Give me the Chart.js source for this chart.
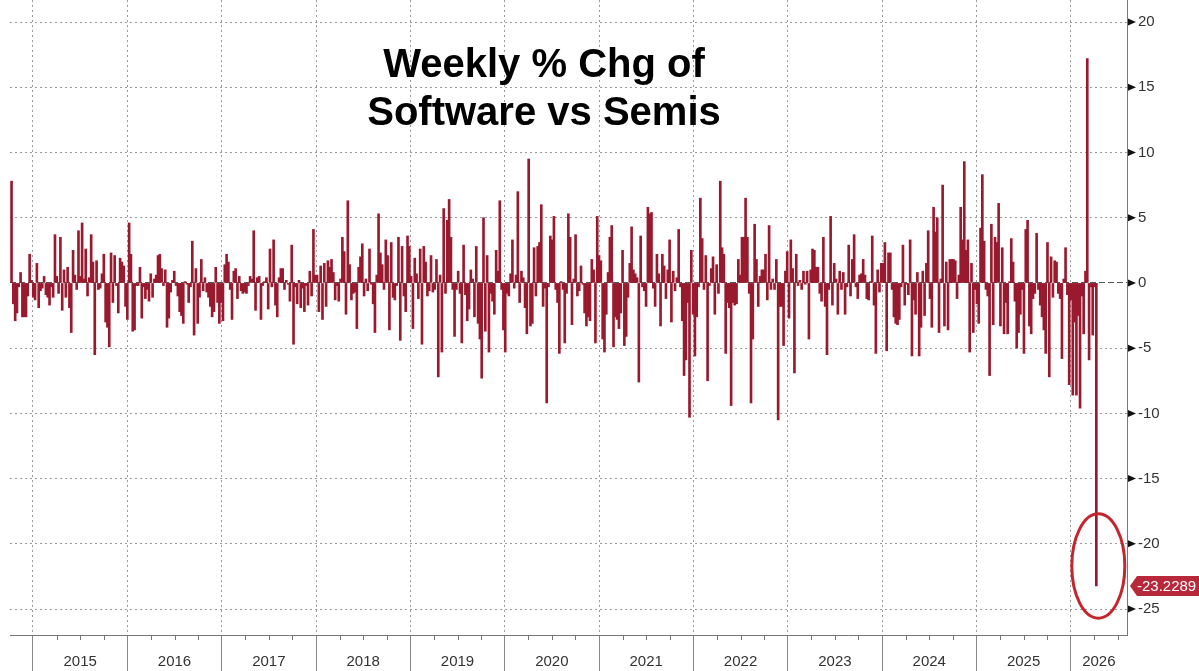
<!DOCTYPE html>
<html><head><meta charset="utf-8">
<script src="https://cdn.jsdelivr.net/npm/chart.js@4.4.1/dist/chart.umd.min.js"></script>
<style>
html,body{margin:0;padding:0;background:#fff;}
#wrap{position:relative;width:1199px;height:671px;overflow:hidden;background:#fff;}
#title{position:absolute;left:0;top:39px;width:1088px;text-align:center;font:bold 40px/48px "Liberation Sans",Arial,sans-serif;color:#000;}
canvas{position:absolute;left:0;top:0;}
</style></head><body>
<div id="wrap"><canvas id="c" width="1199" height="671"></canvas><div id="title">Weekly % Chg of<br>Software vs Semis</div></div>
<script>
// ---- data ----
const firstWeek = '2014-10-10';
const weeklyChg = [
 7.8,-1.6,-2.9,-2.3,-0.3,0.8,-2.6,-2.6,-2.6,-1.0,2.2,0.2,
 -1.1,-1.3,1.5,-1.9,-0.6,-0.4,0.5,-0.9,-1.1,-1.7,-0.3,-1.1,3.7,0.5,-0.8,3.5,-2.1,1.0,-1.1,1.2,-1.9,-3.8,2.5,0.6,-0.5,4.0,0.5,4.6,0.3,2.6,-1.0,0.4,3.7,1.6,-5.5,1.7,-0.5,-0.4,0.7,2.2,-3.0,-3.4,
 -4.9,2.3,-1.5,2.1,-0.2,-2.3,1.9,1.6,1.3,-1.8,-2.8,4.6,2.2,-3.7,-3.6,-0.2,-0.2,1.2,-2.7,-0.3,-1.2,-0.5,-1.4,0.7,-1.1,0.3,0.6,2.1,2.2,1.1,-0.2,1.0,-3.4,-2.7,-0.7,0.2,0.9,-0.2,-1.0,-2.2,-2.5,-3.1,0.1,-0.1,-1.5,-0.3,3.2,-4.0,1.1,-3.1,-1.1,1.8,-0.6,0.4,-0.7,-1.1,
 -1.8,-2.6,-2.2,1.2,-1.5,-3.1,-1.5,-2.9,1.4,2.2,1.6,-0.5,-2.8,0.9,1.1,-1.2,0.5,-0.6,-0.8,-0.7,-0.8,-0.2,0.5,0.3,4.0,-2.1,0.4,0.5,-2.8,-0.2,0.1,0.4,-2.0,2.6,-0.3,3.3,-1.7,-2.6,0.4,1.1,1.1,-0.5,0.2,-0.1,-1.4,2.9,-4.7,-0.3,-1.6,0.2,-1.9,-0.4,-2.2,-0.2,-1.7,0.9,-1.0,
 4.1,0.6,0.6,-2.2,1.3,-2.8,1.5,-1.8,1.7,1.2,1.8,0.8,-1.3,-0.2,-1.4,0.3,3.5,2.4,-2.4,6.3,1.4,-1.3,-0.8,-0.7,-3.5,1.2,2.0,3.0,-1.0,0.3,-0.6,2.6,-0.1,-1.6,-3.8,0.6,5.3,2.3,1.4,-0.5,3.3,2.1,-3.6,3.1,-1.1,-1.3,-0.2,3.5,-4.4,2.8,-1.0,-2.2,3.6,2.8,0.5,
 -3.5,1.9,0.7,-1.2,2.6,-4.7,2.8,1.6,-1.0,-0.6,2.1,-0.7,-0.5,1.8,-7.2,0.6,-5.3,5.7,-0.8,4.8,6.4,3.5,-0.5,-4.1,-0.5,0.9,-0.8,-4.6,2.9,-0.9,-2.9,-2.0,1.0,0.3,-2.6,2.8,-3.1,-4.3,-7.3,5.0,-3.7,2.1,-5.3,-0.8,-1.4,-2.4,2.5,0.9,6.3,-0.5,-3.6,-5.3,-0.8,-1.0,0.7,
 3.3,-0.4,0.6,7.0,-1.5,0.9,0.4,-1.9,-3.9,9.5,-3.3,-3.1,2.7,-1.0,2.8,3.1,6.0,-1.8,-0.4,-9.2,-0.3,3.6,3.3,5.1,-0.5,-1.5,-5.4,0.1,-0.5,-4.6,-0.8,5.3,3.5,-3.2,0.3,3.7,-1.0,-0.6,1.3,-0.1,-2.3,-3.3,-2.6,-2.9,1.8,1.0,-4.6,5.1,2.1,1.7,-4.3,-5.3,-2.4,0.8,3.5,
 4.4,-4.9,-2.6,-2.8,-3.5,-2.3,2.5,-4.8,-4.1,-1.1,1.5,4.3,1.0,0.7,0.4,-7.6,3.6,-0.3,-0.6,-1.8,5.8,5.3,5.4,-0.4,-1.8,2.2,0.7,-3.3,2.2,1.3,-1.2,1.0,3.3,-3.0,0.9,-0.6,0.4,4.1,-0.3,-2.9,-7.1,-5.9,-1.5,-10.3,2.5,-2.4,-5.6,-2.6,-0.3,6.5,3.4,-0.5,2.1,-7.5,-0.2,1.1,2.0,
 -2.4,1.4,-0.8,7.8,2.7,2.2,-5.4,-1.5,-1.9,-9.4,-1.5,-1.7,-1.6,1.8,0.6,3.5,3.5,6.5,3.5,-0.8,-9.2,-4.3,4.5,1.8,-1.8,0.5,1.0,1.0,2.2,-1.3,4.4,-0.5,0.3,-0.5,1.8,-10.5,-1.8,-1.8,-4.8,0.9,2.4,-2.7,3.3,1.1,-6.9,2.2,-0.2,0.2,-0.5,0.9,-0.1,0.9,-4.3,1.0,2.6,
 2.5,1.2,1.2,-0.8,-1.4,3.5,-1.8,-5.5,-0.5,5.1,-1.7,1.5,0.3,-2.4,0.9,-0.5,0.8,-2.4,-0.3,2.9,-1.0,1.8,3.7,-0.3,-1.2,0.6,0.7,1.8,0.6,-1.2,-1.3,0.1,3.6,-1.7,-5.4,1.0,-0.7,1.5,1.5,3.1,-5.2,2.3,2.3,-0.5,-2.6,-3.1,-3.2,-2.8,-0.3,2.9,-1.7,-0.1,-0.9,
 3.3,-5.6,-1.3,-2.4,0.8,-5.6,-3.4,0.9,-2.5,1.5,4.0,-1.2,-3.4,5.8,3.9,5.0,-3.8,0.3,7.5,-3.3,1.6,-3.6,1.8,1.8,1.8,1.7,-1.2,0.6,5.8,3.3,9.3,2.5,3.3,-5.3,1.5,-3.8,-0.5,-1.6,-3.1,4.2,8.3,3.2,-0.5,-1.0,-7.1,4.5,-3.2,3.5,3.1,6.1,-3.3,2.7,-3.9,-1.5,-3.9,0.1,
 3.4,1.6,-1.4,-5.0,-3.8,-2.4,-0.5,-5.4,4.1,4.8,-3.3,-3.9,-1.2,-0.8,3.8,-0.5,-1.7,-2.6,-3.6,-5.4,3.1,-7.2,2.0,-1.1,1.7,1.6,-0.8,-1.2,-5.8,0.3,2.7,-0.9,-7.8,-1.3,-8.6,-3.0,-8.6,-2.5,-9.6,-1.0,-3.9,0.9,17.2,-5.9,-0.3,-4.0,-0.3,-23.2289
];
const yearLabels = ['2015','2016','2017','2018','2019','2020','2021','2022','2023','2024','2025','2026'];
const yTickValues = [-25,-20,-15,-10,-5,0,5,10,15,20];
const lastLabel = '-23.2289';

// ---- build ----
const t0 = Date.parse(firstWeek + 'T00:00:00Z');
function decYear(ms){ const d=new Date(ms); const y=d.getUTCFullYear(); const a=Date.UTC(y,0,1), b=Date.UTC(y+1,0,1); return y+(ms-a)/(b-a); }
const points = weeklyChg.map((v,i)=>({x: decYear(t0 + i*7*86400000), y: v}));

const X_MIN = 2014.7562, X_MAX = 2026.5964;
const labelMap = new Map();
yearLabels.forEach(s=>{ const Y=+s; const lo=Math.max(Y,X_MIN), hi=Math.min(Y+1,X_MAX); if(hi-lo>0.3) labelMap.set((lo+hi)/2, s); });

const FONT = '"Liberation Sans", Arial, sans-serif';
const isInt = v => Math.abs(v-Math.round(v))<1e-9;
const noPad = s => { s.paddingTop=0; s.paddingBottom=0; s.paddingLeft=0; s.paddingRight=0; };

const decor = {
  id:'decor',
  afterDraw(chart){
    const {ctx, chartArea:ca, scales:{x,y}} = chart;
    ctx.save();
    ctx.strokeStyle='#777'; ctx.lineWidth=1;
    for(let Y=2014;Y<=2026;Y++) for(const q of [0.25,0.5,0.75]){
      const v=Y+q; if(v<x.min||v>x.max) continue;
      const px=Math.round(x.getPixelForValue(v))+0.5;
      ctx.beginPath(); ctx.moveTo(px,ca.bottom); ctx.lineTo(px,ca.bottom+5); ctx.stroke();
    }
    ctx.fillStyle='#111';
    yTickValues.forEach(v=>{ const py=y.getPixelForValue(v); ctx.beginPath(); ctx.moveTo(ca.right+1,py-3.5); ctx.lineTo(ca.right+9,py); ctx.lineTo(ca.right+1,py+3.5); ctx.closePath(); ctx.fill(); });
    const last=points[points.length-1];
    const cx=x.getPixelForValue(last.x)+2, cy=y.getPixelForValue(-21.7);
    const ry=y.getPixelForValue(-25.7)-cy;
    ctx.strokeStyle='#c4262e'; ctx.lineWidth=3;
    ctx.beginPath(); ctx.ellipse(cx,cy,26.5,ry,0,0,Math.PI*2); ctx.stroke();
    const py=y.getPixelForValue(last.y);
    ctx.fillStyle='#b8283b';
    ctx.beginPath(); ctx.moveTo(ca.right+3,py); ctx.lineTo(ca.right+10,py-10); ctx.lineTo(chart.width,py-10); ctx.lineTo(chart.width,py+10); ctx.lineTo(ca.right+10,py+10); ctx.closePath(); ctx.fill();
    ctx.fillStyle='#fff'; ctx.font='15px '+FONT; ctx.textBaseline='middle'; ctx.textAlign='left';
    ctx.fillText(lastLabel, ca.right+10, py+0.5);
    ctx.restore();
  }
};

new Chart(document.getElementById('c'), {
  type:'bar',
  data:{ datasets:[{ data: points, backgroundColor:'#991a2e', borderWidth:0, barThickness:2 }] },
  options:{
    responsive:false, animation:false, devicePixelRatio:1,
    layout:{ padding:{left:10, top:0, right:0, bottom:0} },
    plugins:{ legend:{display:false}, tooltip:{enabled:false} },
    scales:{
      x:{
        type:'linear', position:'bottom', min:X_MIN, max:X_MAX, offset:false,
        afterBuildTicks(s){ const t=[]; for(let Y=2015;Y<=2026;Y++) t.push(Y); labelMap.forEach((_,k)=>t.push(k)); t.sort((a,b)=>a-b); s.ticks=t.map(v=>({value:v})); },
        afterFit(s){ s.height=36; noPad(s); },
        grid:{ offset:false, lineWidth:1, tickLength:36,
          color: c => (c.tick && isInt(c.tick.value)) ? '#9a9a9a' : 'rgba(0,0,0,0)',
          tickColor: c => (c.tick && isInt(c.tick.value)) ? '#888' : 'rgba(0,0,0,0)' },
        border:{ display:true, color:'#777', width:1, dash:[2,3] },
        ticks:{ autoSkip:false, maxRotation:0, minRotation:0, padding:-18, color:'#333', font:{family:FONT, size:15},
          callback:(v)=> labelMap.has(v) ? labelMap.get(v) : '' }
      },
      y:{
        type:'linear', position:'right', min:-26.99, max:21.69,
        afterBuildTicks(s){ s.ticks=yTickValues.map(v=>({value:v})); },
        afterFit(s){ s.width=72; noPad(s); },
        grid:{ lineWidth:1, tickLength:8, tickColor:'rgba(0,0,0,0)',
          color: c => (c.tick && c.tick.value===0) ? '#555' : '#9a9a9a' },
        border:{ display:true, color:'#777', width:1, dash: c => (c.tick && c.tick.value===0) ? [6,3] : [2,3] },
        ticks:{ padding:3, color:'#333', font:{family:FONT, size:15}, callback:(v)=>String(v) }
      }
    }
  },
  plugins:[decor]
});
</script></body></html>
